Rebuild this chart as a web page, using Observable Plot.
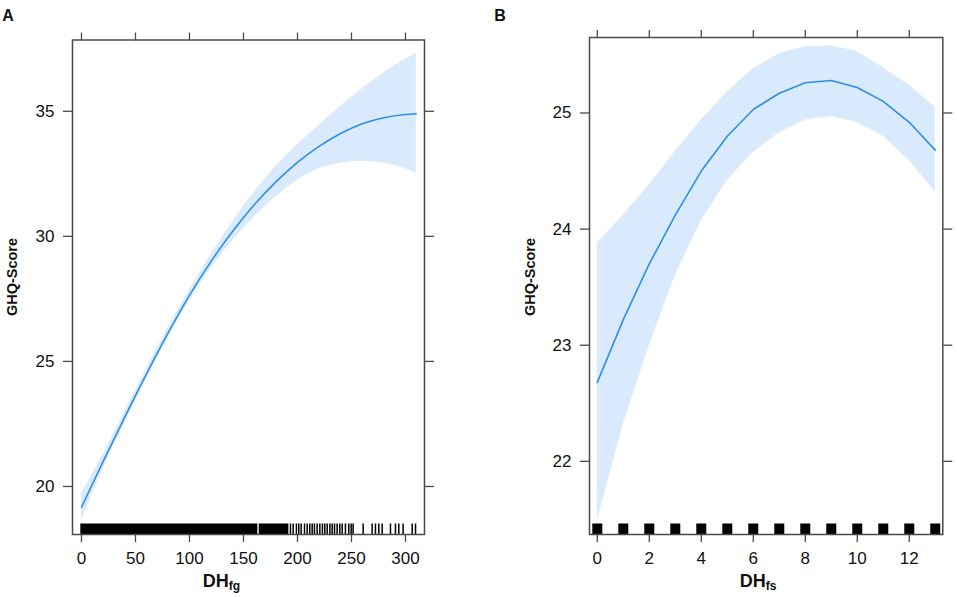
<!DOCTYPE html>
<html><head><meta charset="utf-8">
<script src="https://cdn.jsdelivr.net/npm/d3@7"></script>
<script src="https://cdn.jsdelivr.net/npm/@observablehq/plot@0.6"></script>
<style>
html,body{margin:0;padding:0;background:#fff;}
#wrap{position:relative;width:957px;height:597px;overflow:hidden;background:#fff;}
#wrap svg{position:absolute;top:0;}
</style></head><body><div id="wrap"></div>
<script>
// ---------- Panel A data (DH_fg) ----------
const aX     = [0, 20, 40, 60, 80, 100, 120, 140, 160, 180, 200, 220, 240, 260, 280, 300, 310];
const aFit   = [19.17, 20.99, 22.76, 24.48, 26.12, 27.64, 29.0, 30.2, 31.26, 32.18, 32.96, 33.6, 34.11, 34.5, 34.74, 34.87, 34.9];
const aLower = [18.64, 20.7, 22.53, 24.27, 25.91, 27.42, 28.72, 29.82, 30.76, 31.57, 32.24, 32.7, 32.92, 33.0, 32.92, 32.7, 32.5];
const aUpper = [19.71, 21.28, 22.99, 24.69, 26.33, 27.86, 29.28, 30.58, 31.76, 32.79, 33.66, 34.44, 35.2, 35.9, 36.53, 37.08, 37.32];
const aRugRunStart = [-0.6, 164.6];
const aRugRunEnd   = [163.3, 192];
const aRugTicks = [193.5, 196, 199, 201.2, 203.4, 206.5, 209, 211.4, 213.6, 215.7, 218.2, 220.7, 223.1, 225.3,
  227.5, 230, 232.1, 234.3, 236.7, 239.2, 241.4, 244.4, 247.5, 249.7, 251.5,
  260.8, 269.1, 272.2, 275.3, 278.4, 286.1, 290.7, 293.8, 297.8, 306.2, 309.3];
const aXTicks = [0, 50, 100, 150, 200, 250, 300];
const aYTicks = [20, 25, 30, 35];

// ---------- Panel B data (DH_fs) ----------
const bX     = [0, 1, 2, 3, 4, 5, 6, 7, 8, 9, 10, 11, 12, 13];
const bFit   = [22.68, 23.22, 23.70, 24.12, 24.50, 24.80, 25.03, 25.17, 25.26, 25.28, 25.22, 25.10, 24.92, 24.68];
const bLower = [21.49, 22.32, 23.0, 23.6, 24.07, 24.42, 24.66, 24.83, 24.94, 24.97, 24.92, 24.80, 24.59, 24.32];
const bUpper = [23.88, 24.12, 24.38, 24.67, 24.94, 25.18, 25.38, 25.51, 25.57, 25.58, 25.53, 25.39, 25.24, 25.05];
const bRugTicks = [0, 1, 2, 3, 4, 5, 6, 7, 8, 9, 10, 11, 12, 13];
const bXTicks = [0, 2, 4, 6, 8, 10, 12];
const bYTicks = [22, 23, 24, 25];

const FONT = '"Liberation Sans", Arial, Helvetica, sans-serif';
const BAND = "#d9eafc";
const LINE = "#2e8de8";
const AXIS = "#4a4a4a";
const H = 597;
const fmt = d => String(d);

function panel(cfg) {
  const band = cfg.xs.map((x, i) => ({x, lo: cfg.lower[i], hi: cfg.upper[i]}));
  const fit = cfg.xs.map((x, i) => ({x, y: cfg.fit[i]}));
  const frameH = H - cfg.mt - cfg.mb;
  const rugInset = frameH - cfg.rugH;
  const marks = [
    Plot.areaY(band, {x: "x", y1: "lo", y2: "hi", fill: BAND, curve: cfg.curve}),
    Plot.line(fit, {x: "x", y: "y", stroke: LINE, strokeWidth: 1.6, curve: cfg.curve}),
  ];
  if (cfg.runs) {
    const runs = cfg.runs[0].map((a, i) => ({a, b: cfg.runs[1][i]}));
    marks.push(Plot.rect(runs, {x1: "a", x2: "b", fill: "black", insetTop: rugInset}));
  }
  marks.push(Plot.tickX(cfg.rug, {x: d => d, stroke: "black", strokeWidth: cfg.rugW, insetTop: rugInset}));
  marks.push(
    Plot.frame({stroke: AXIS, strokeWidth: 1.5}),
    Plot.axisX(cfg.xTicks, {anchor: "bottom", tickSize: 8, tickPadding: 9, stroke: AXIS, strokeWidth: 1.3, label: null, fontSize: 17, fill: "#111", tickFormat: fmt}),
    Plot.axisX(cfg.xTicks, {anchor: "top", tickSize: 8, stroke: AXIS, strokeWidth: 1.3, label: null, tickFormat: () => ""}),
    Plot.axisY(cfg.yTicks, {anchor: "left", tickSize: 9, tickPadding: 9, stroke: AXIS, strokeWidth: 1.3, label: null, fontSize: 17, fill: "#111", tickFormat: fmt}),
    Plot.axisY(cfg.yTicks, {anchor: "right", tickSize: 9, stroke: AXIS, strokeWidth: 1.3, label: null, tickFormat: () => ""})
  );
  const svg = Plot.plot({
    width: cfg.width, height: H,
    marginLeft: cfg.ml, marginRight: cfg.mr, marginTop: cfg.mt, marginBottom: cfg.mb,
    x: {domain: cfg.xDomain},
    y: {domain: cfg.yDomain},
    style: {fontFamily: FONT, fontSize: "17px", background: "white", color: "#111", overflow: "visible"},
    marks
  });
  svg.style.left = cfg.left + "px";
  const s = d3.select(svg);
  s.append("text").attr("x", cfg.letterX).attr("y", 20.7)
    .attr("font-family", FONT).attr("font-weight", "bold").attr("font-size", 16).attr("fill", "#111")
    .text(cfg.letter);
  s.append("text").attr("transform", `translate(${cfg.yLabX},277) rotate(-90)`)
    .attr("text-anchor", "middle").attr("font-family", FONT).attr("font-weight", "bold")
    .attr("font-size", 14.5).attr("fill", "#111").text("GHQ-Score");
  const t = s.append("text").attr("x", cfg.xLabX).attr("y", 586.5)
    .attr("font-family", FONT).attr("font-weight", "bold").attr("font-size", 18).attr("fill", "#111");
  t.append("tspan").text("DH");
  t.append("tspan").attr("font-size", 12).attr("dy", 3.5).text(cfg.sub);
  document.getElementById("wrap").appendChild(svg);
}

panel({
  left: 0, width: 478, ml: 72, mr: 54, mt: 39.5, mb: 63,
  xDomain: [-8.3, 317.6], yDomain: [18.08, 37.85],
  xs: aX, fit: aFit, lower: aLower, upper: aUpper, curve: "monotone-x",
  runs: [aRugRunStart, aRugRunEnd], rug: aRugTicks, rugW: 1.5, rugH: 10.5,
  xTicks: aXTicks, yTicks: aYTicks,
  letter: "A", letterX: 8, yLabX: 16.5, xLabX: 221.5, sub: "fg"
});
panel({
  left: 478, width: 479, ml: 111, mr: 14.7, mt: 37, mb: 63,
  xDomain: [-0.3, 13.29], yDomain: [21.37, 25.65],
  xs: bX, fit: bFit, lower: bLower, upper: bUpper, curve: "linear",
  runs: null, rug: bRugTicks, rugW: 10, rugH: 10.5,
  xTicks: bXTicks, yTicks: bYTicks,
  letter: "B", letterX: 22, yLabX: 57, xLabX: 280, sub: "fs"
});
</script></body></html>
